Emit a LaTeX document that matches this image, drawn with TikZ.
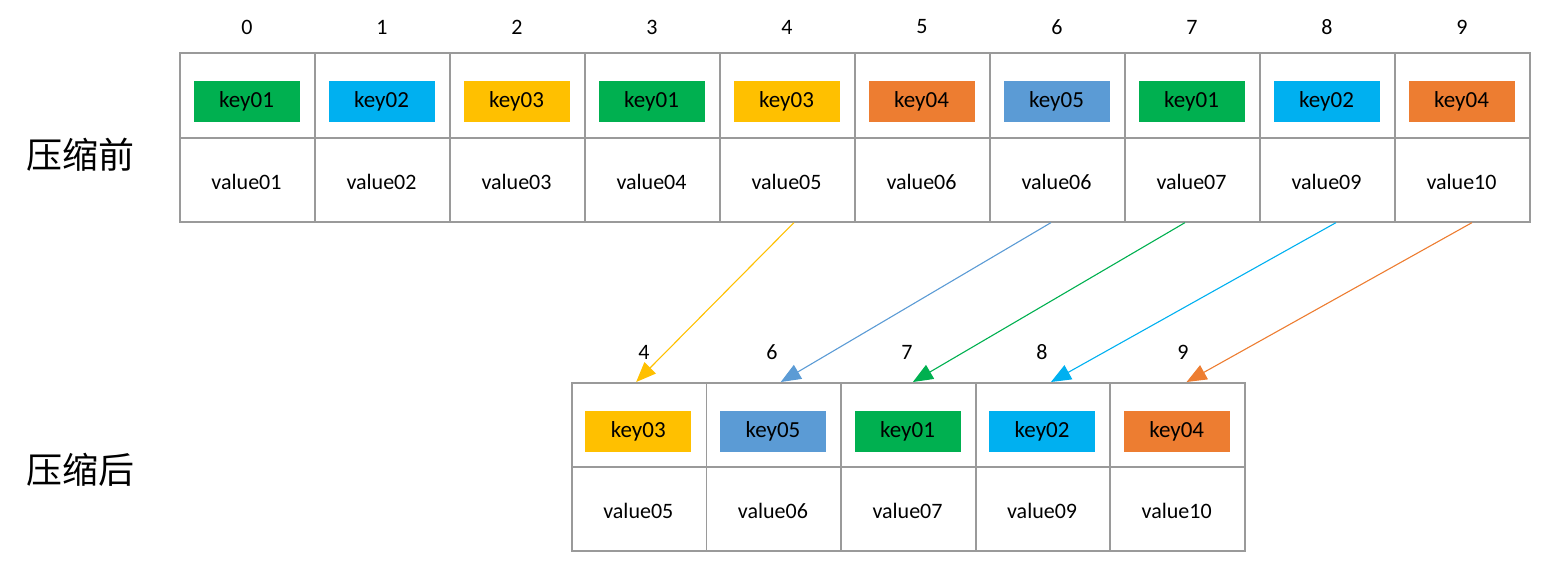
\documentclass[tikz,border=0pt]{standalone}
\usepackage{fontspec}
\setmainfont{Carlito}
\newfontfamily\cjk{Noto Sans CJK SC}
\usetikzlibrary{arrows.meta,calc}
\definecolor{kgreen}{HTML}{00B050}
\definecolor{kcyan}{HTML}{00B0F0}
\definecolor{kyellow}{HTML}{FFC000}
\definecolor{korange}{HTML}{ED7D31}
\definecolor{kblue}{HTML}{5B9BD5}
\definecolor{grid}{HTML}{9A9A9A}
\tikzset{
  cellbox/.style={draw=grid, line width=1.7pt, minimum width=#1, inner sep=0pt, anchor=north west, font=\fontsize{23}{25}\selectfont},
  keybox/.style={fill=#1, minimum width=106pt, minimum height=41pt, inner sep=0pt, font=\fontsize{23}{25}\selectfont, text=black},
  idx/.style={font=\fontsize{22}{24}\selectfont, inner sep=0pt},
  title/.style={font=\cjk\fontsize{36}{38}\selectfont, inner sep=0pt},
  link/.style={draw=#1, line width=1.1pt, -{Triangle[length=20pt,width=16pt]}, color=#1},
}
\begin{document}
\begin{tikzpicture}[x=1pt,y=-1pt]
\useasboundingbox (0,0) rectangle (1541,562);
% top table
\foreach \i/\k/\c/\v in {0/key01/kgreen/value01,1/key02/kcyan/value02,2/key03/kyellow/value03,3/key01/kgreen/value04,4/key03/kyellow/value05,5/key04/korange/value06,6/key05/kblue/value06,7/key01/kgreen/value07,8/key02/kcyan/value09,9/key04/korange/value10}{
  \node[cellbox=135pt, minimum height=85pt] (tk\i) at ({179+135*\i},52) {};
  \node[cellbox=135pt, minimum height=84pt] (tv\i) at ({179+135*\i},137) {};
  \node[keybox=\c] (tkey\i) at ({179+135*\i+67.5},101) {\k};
  \node[idx] (ti\i) at ({179+135*\i+68},27) {\i};
  \node[idx] (tval\i) at ({179+135*\i+67.5},182) {\v};
}
% bottom table
\foreach \j/\n/\k/\c/\v/\lx in {0/4/key03/kyellow/value05/644,1/6/key05/kblue/value06/772,2/7/key01/kgreen/value07/907,3/8/key02/kcyan/value09/1042,4/9/key04/korange/value10/1183}{
  \node[cellbox=134.6pt, minimum height=84pt] (bk\j) at ({571+134.6*\j},382) {};
  \node[cellbox=134.6pt, minimum height=84pt] (bv\j) at ({571+134.6*\j},466) {};
  \node[keybox=\c] (bkey\j) at ({571+134.6*\j+67.3},431) {\k};
  \node[idx] (bi\j) at (\lx,352) {\n};
  \node[idx] (bval\j) at ({571+134.6*\j+67.3},511) {\v};
}
\node[title] (before) at (80,155) {压缩前};
\node[title] (after) at (80,470) {压缩后};
% arrows
\draw[link=kyellow] ($(tv4.south)+(6.5,0)$) -- ($(bk0.north)+(-3,0)$);
\draw[link=kblue] ($(tv6.south)+(-6.5,0)$) -- ($(bk1.north)+(7,0)$);
\draw[link=kgreen] ($(tv7.south)+(-7.5,0)$) -- ($(bk2.north)+(4.5,0)$);
\draw[link=kcyan] ($(tv8.south)+(8.5,0)$) -- ($(bk3.north)+(8,0)$);
\draw[link=korange] ($(tv9.south)+(9.5,0)$) -- ($(bk4.north)+(9,0)$);
\end{tikzpicture}
\end{document}
